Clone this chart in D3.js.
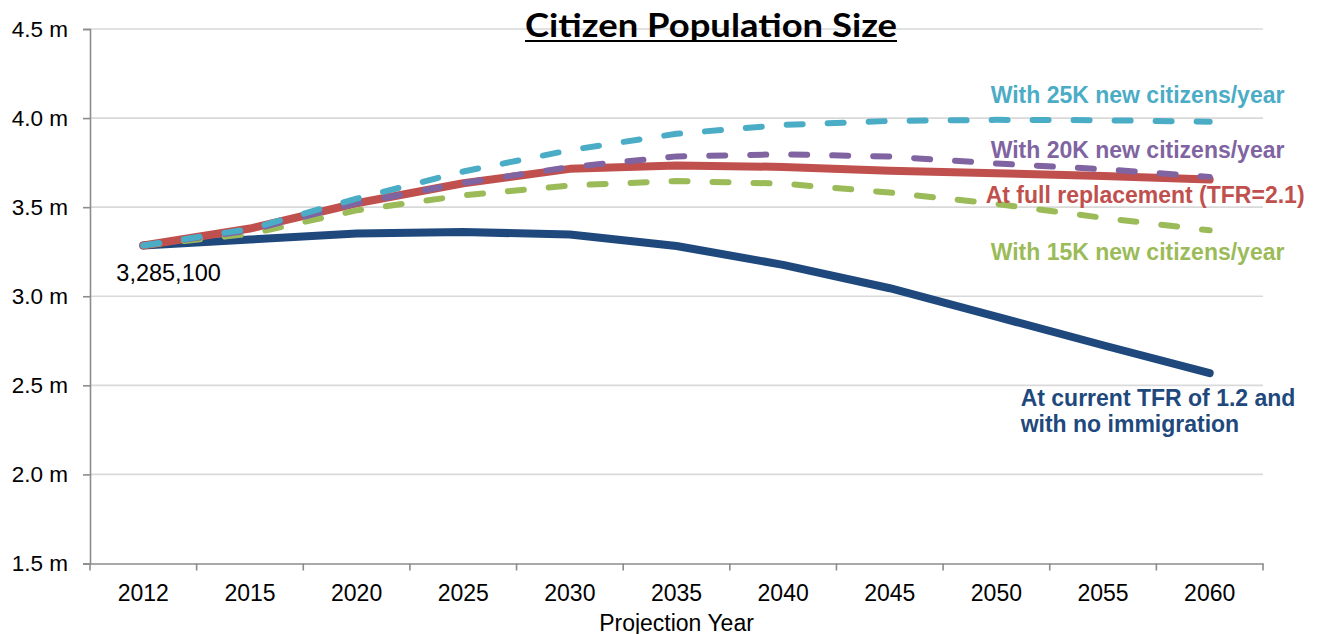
<!DOCTYPE html>
<html>
<head>
<meta charset="utf-8">
<script src="https://cdn.jsdelivr.net/npm/d3@7"></script>
<style>
  html, body { margin: 0; padding: 0; background: #fff; }
  svg { display: block; }
  text { font-family: "Liberation Sans", Arial, sans-serif; }
</style>
</head>
<body>
<svg id="chart" width="1318" height="634"></svg>
<script>
// Projection years (category axis)
const years = ["2012", "2015", "2020", "2025", "2030", "2035", "2040", "2045", "2050", "2055", "2060"];

// Citizen population, millions
const currentTFR   = [3.2851, 3.318, 3.352, 3.360, 3.347, 3.282, 3.176, 3.045, 2.885, 2.725, 2.568];
const fullReplace  = [3.2851, 3.380, 3.522, 3.634, 3.715, 3.734, 3.726, 3.705, 3.690, 3.675, 3.655];
const with15K      = [3.2851, 3.350, 3.482, 3.566, 3.622, 3.647, 3.632, 3.582, 3.518, 3.440, 3.370];
const with20K      = [3.2851, 3.370, 3.522, 3.636, 3.725, 3.785, 3.797, 3.784, 3.745, 3.713, 3.670];
const with25K      = [3.2851, 3.378, 3.548, 3.700, 3.820, 3.912, 3.962, 3.984, 3.990, 3.988, 3.980];

// Value axis ticks
const yTicks = [1.5, 2.0, 2.5, 3.0, 3.5, 4.0, 4.5];

const startLabel = "3,285,100";

const series = [
  { name: "At current TFR of 1.2 and|with no immigration", values: currentTFR,  color: "#1F497D", dashed: false },
  { name: "At full replacement (TFR=2.1)",                 values: fullReplace, color: "#C0504D", dashed: false },
  { name: "With 15K new citizens/year",                    values: with15K,     color: "#9BBB59", dashed: true },
  { name: "With 20K new citizens/year",                    values: with20K,     color: "#8064A2", dashed: true },
  { name: "With 25K new citizens/year",                    values: with25K,     color: "#4BACC6", dashed: true }
];

const svg = d3.select("#chart");
const plotLeft = 90, plotRight = 1263, plotTop = 29, plotBottom = 563.5;

const x = d3.scaleBand().domain(years).range([plotLeft, plotRight]).padding(0);
const cx = d => x(d) + x.bandwidth() / 2;
const y = d3.scaleLinear().domain([1.5, 4.5]).range([plotBottom, plotTop]);

// Horizontal gridlines
svg.append("g")
  .selectAll("line")
  .data(yTicks.slice(1))
  .join("line")
  .attr("x1", plotLeft).attr("x2", plotRight)
  .attr("y1", d => y(d)).attr("y2", d => y(d))
  .attr("stroke", "#d9d9d9").attr("stroke-width", 1.6);

// Y axis
const yAxis = svg.append("g")
  .attr("transform", `translate(${plotLeft},0)`)
  .call(d3.axisLeft(y).tickValues(yTicks).tickSize(7).tickPadding(15)
    .tickFormat(d => d3.format(".1f")(d) + " m"));
yAxis.select(".domain").attr("stroke", "#8c8c8c").attr("stroke-width", 1.6);
yAxis.selectAll(".tick line").attr("stroke", "#8c8c8c").attr("stroke-width", 1.6);
yAxis.selectAll(".tick text")
  .attr("fill", "#000").style("font-size", "22.5px")
  .style("font-family", "'Liberation Sans', Arial, sans-serif");

// X axis: labels at category centres, tick marks on category boundaries
const xAxis = svg.append("g")
  .attr("transform", `translate(0,${plotBottom})`)
  .call(d3.axisBottom(x).tickSize(0).tickPadding(21));
xAxis.select(".domain").attr("stroke", "#8c8c8c").attr("stroke-width", 1.6);
xAxis.selectAll(".tick text")
  .attr("fill", "#000").style("font-size", "23px")
  .style("font-family", "'Liberation Sans', Arial, sans-serif");
const edges = years.map(d => x(d)).concat([plotRight]);
xAxis.append("g").selectAll("line")
  .data(edges)
  .join("line")
  .attr("x1", d => d).attr("x2", d => d)
  .attr("y1", 0).attr("y2", 7)
  .attr("stroke", "#8c8c8c").attr("stroke-width", 1.6);

// Axis title (sits at the lower edge of the canvas)
svg.append("text")
  .attr("x", (plotLeft + plotRight) / 2).attr("y", 631)
  .attr("text-anchor", "middle")
  .style("font-size", "23px").attr("fill", "#000")
  .text("Projection Year");

// Series lines
const line = d3.line()
  .x((v, i) => cx(years[i]))
  .y(v => y(v))
  .curve(d3.curveLinear);

svg.append("g")
  .selectAll("path")
  .data(series)
  .join("path")
  .attr("d", s => line(s.values))
  .attr("fill", "none")
  .attr("stroke", s => s.color)
  .attr("stroke-width", s => s.dashed ? 6 : 8)
  .attr("stroke-linecap", "round")
  .attr("stroke-linejoin", "round")
  .attr("stroke-dasharray", s => s.dashed ? "16,25" : null);

// Start value label
svg.append("text")
  .attr("x", cx(years[0]) - 27).attr("y", y(currentTFR[0]) + 36)
  .style("font-size", "23.5px").attr("fill", "#000")
  .text(startLabel);

// Series end labels, placed relative to each series' final value
const lastX = cx(years[years.length - 1]);
const labelOffsets = [
  { dx: -189, dy: 33 },   // current TFR
  { dx: -224, dy: 23 },   // full replacement
  { dx: -219, dy: 30 },   // 15K
  { dx: -219, dy: -19 },  // 20K
  { dx: -219, dy: -19 }   // 25K
];
series.forEach((s, i) => {
  const last = s.values[s.values.length - 1];
  const t = svg.append("text")
    .attr("x", lastX + labelOffsets[i].dx)
    .attr("y", y(last) + labelOffsets[i].dy)
    .attr("fill", s.color)
    .style("font-size", "23px")
    .style("font-weight", "bold");
  s.name.split("|").forEach((part, k) => {
    t.append("tspan")
      .attr("x", lastX + labelOffsets[i].dx)
      .attr("dy", k === 0 ? 0 : 25.5)
      .text(part);
  });
});

// Title, underlined
const titleX = 711, titleW = 372;
svg.append("text")
  .attr("x", titleX).attr("y", 37)
  .attr("text-anchor", "middle")
  .attr("textLength", titleW)
  .attr("lengthAdjust", "spacingAndGlyphs")
  .style("font-family", "Lato, 'Open Sans', sans-serif")
  .style("font-size", "33px")
  .style("font-weight", "bold")
  .attr("fill", "#000")
  .text("Citizen Population Size");
svg.append("line")
  .attr("x1", titleX - titleW / 2).attr("x2", titleX + titleW / 2)
  .attr("y1", 41).attr("y2", 41)
  .attr("stroke", "#000").attr("stroke-width", 2);
</script>
</body>
</html>
